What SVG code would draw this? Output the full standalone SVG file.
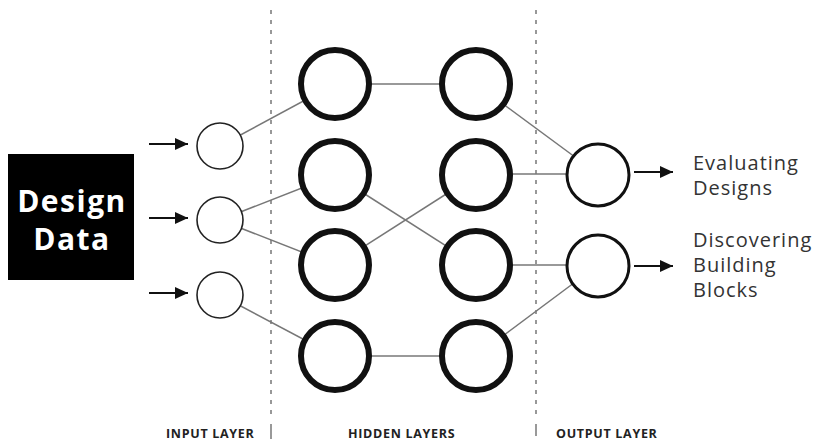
<svg xmlns="http://www.w3.org/2000/svg" width="815" height="442" viewBox="0 0 815 442">
<defs>
<marker id="ah" viewBox="0 0 13 12" refX="13" refY="6" markerWidth="13" markerHeight="12" markerUnits="userSpaceOnUse" orient="auto">
<path d="M0,0 L13,6 L0,12 z" fill="#111"/>
</marker>
<style>
.inp{fill:#fff;stroke:#222;stroke-width:1.6}
.hid{fill:#fff;stroke:#111;stroke-width:6}
.out{fill:#fff;stroke:#111;stroke-width:3}
.edge{stroke:#777;stroke-width:1.5;fill:none}
.arr{stroke:#111;stroke-width:2.2;fill:none}
.div{stroke:#777;stroke-width:1.5;stroke-dasharray:4 6;fill:none}
.lbl{font-family:"Open Sans","Liberation Sans",sans-serif;font-size:20px;fill:#333;letter-spacing:1px}
.lay{font-family:"Open Sans","Liberation Sans",sans-serif;font-weight:bold;font-size:12.5px;fill:#222;letter-spacing:0.7px}
.big{font-family:"Open Sans","Liberation Sans",sans-serif;font-weight:bold;font-size:30px;fill:#fff;letter-spacing:1.5px;text-anchor:middle}
</style>
</defs>
<rect width="815" height="442" fill="#fff"/>
<g id="dividers">
<line class="div" x1="271" y1="10" x2="271" y2="420"/>
<line x1="271" y1="424" x2="271" y2="439" stroke="#777" stroke-width="1.5"/>
<line class="div" x1="536" y1="10" x2="536" y2="420"/>
<line x1="536" y1="424" x2="536" y2="436" stroke="#777" stroke-width="1.5"/>
</g>
<g id="connectors">
<line class="edge" x1="220" y1="146" x2="335" y2="84"/>
<line class="edge" x1="220" y1="220" x2="335" y2="175"/>
<line class="edge" x1="220" y1="220" x2="335" y2="265"/>
<line class="edge" x1="220" y1="295" x2="335" y2="356"/>
<line class="edge" x1="335" y1="84" x2="476" y2="84"/>
<line class="edge" x1="335" y1="175" x2="476" y2="265"/>
<line class="edge" x1="335" y1="265" x2="476" y2="175"/>
<line class="edge" x1="335" y1="356" x2="476" y2="356"/>
<line class="edge" x1="476" y1="84" x2="598" y2="174"/>
<line class="edge" x1="476" y1="174" x2="598" y2="174"/>
<line class="edge" x1="476" y1="265" x2="598" y2="265"/>
<line class="edge" x1="476" y1="356" x2="598" y2="265"/>
<line class="arr" x1="149" y1="144" x2="188" y2="144" marker-end="url(#ah)"/>
<line class="arr" x1="149" y1="218" x2="188" y2="218" marker-end="url(#ah)"/>
<line class="arr" x1="149" y1="293" x2="188" y2="293" marker-end="url(#ah)"/>
<line class="arr" x1="634" y1="172" x2="673" y2="172" marker-end="url(#ah)"/>
<line class="arr" x1="634" y1="266" x2="673" y2="266" marker-end="url(#ah)"/>
</g>
<g id="design-data">
<rect x="8" y="154" width="126" height="126" fill="#000"/>
<text class="big" x="72" y="212">Design</text>
<text class="big" x="72" y="250">Data</text>
</g>
<g id="input1"><circle class="inp" cx="220" cy="146" r="23"/></g>
<g id="input2"><circle class="inp" cx="220" cy="220" r="23"/></g>
<g id="input3"><circle class="inp" cx="220" cy="295" r="23"/></g>
<g id="h11"><circle class="hid" cx="335" cy="84" r="34"/></g>
<g id="h12"><circle class="hid" cx="335" cy="175" r="34"/></g>
<g id="h13"><circle class="hid" cx="335" cy="265" r="34"/></g>
<g id="h14"><circle class="hid" cx="335" cy="356" r="34"/></g>
<g id="h21"><circle class="hid" cx="476" cy="84" r="34"/></g>
<g id="h22"><circle class="hid" cx="476" cy="175" r="34"/></g>
<g id="h23"><circle class="hid" cx="476" cy="265" r="34"/></g>
<g id="h24"><circle class="hid" cx="476" cy="356" r="34"/></g>
<g id="out1"><circle class="out" cx="598" cy="175" r="31"/></g>
<g id="out2"><circle class="out" cx="598" cy="266" r="31"/></g>
<g id="label-eval">
<text class="lbl" x="693" y="170">Evaluating</text>
<text class="lbl" x="693" y="195">Designs</text>
</g>
<g id="label-disc">
<text class="lbl" x="693" y="247">Discovering</text>
<text class="lbl" x="693" y="272">Building</text>
<text class="lbl" x="693" y="297">Blocks</text>
</g>
<g id="layer-labels">
<text class="lay" x="166" y="438">INPUT LAYER</text>
<text class="lay" x="348" y="438">HIDDEN LAYERS</text>
<text class="lay" x="556" y="438">OUTPUT LAYER</text>
</g>
</svg>
